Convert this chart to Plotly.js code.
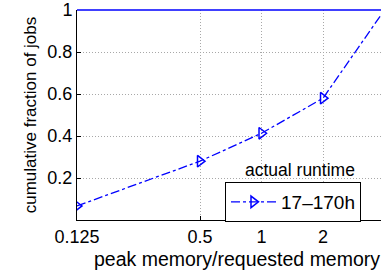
<!DOCTYPE html>
<html>
<head>
<meta charset="utf-8">
<script src="https://cdn.plot.ly/plotly-3.0.1.min.js"></script>
<style>
html,body{margin:0;padding:0;overflow:hidden;background:#fff;width:381px;height:274px;}
#chart{width:400px;height:274px;}
</style>
</head>
<body>
<div id="chart"></div>
<script>
// Data
const memRatio = [0.125, 0.5, 1, 2, 4];
const cumFraction = [0.067, 0.28, 0.413, 0.58, 1.0];
const seriesName = "17\u2013170h";
const legendTitle = "actual runtime";
const xTickVals = [0.125, 0.5, 1, 2];
const xTickText = ["0.125", "0.5", "1", "2"];
const yTickVals = [0.2, 0.4, 0.6, 0.8, 1];
const yTickText = ["0.2", "0.4", "0.6", "0.8", "1"];
const xTitle = "peak memory/requested memory";
const yTitle = "cumulative fraction of jobs";

const FONT = "Liberation Sans, Arial, Helvetica, sans-serif";

const trace = {
  x: memRatio,
  y: cumFraction,
  name: seriesName,
  type: "scatter",
  mode: "lines+markers",
  line: {color: "#0000ff", width: 1.3, dash: "dashdot"},
  marker: {symbol: "triangle-right-open", size: 10, color: "#0000ff", line: {width: 1.5, color: "#0000ff"}},
  cliponaxis: true
};

const layout = {
  width: 400,
  height: 274,
  margin: {l: 77, r: 3, t: 10, b: 54},
  paper_bgcolor: "#ffffff",
  plot_bgcolor: "#ffffff",
  font: {family: FONT, color: "#000", size: 17},
  showlegend: true,
  legend: {
    x: 0.4625, y: 0.181, xanchor: "left", yanchor: "top",
    bordercolor: "#000", borderwidth: 1, bgcolor: "#fff",
    font: {family: FONT, size: 19, color: "#000"},
    itemwidth: 45,
    tracegroupgap: 0
  },
  xaxis: {
    type: "log",
    range: [Math.log10(0.125), 0.6632],
    tickvals: xTickVals,
    ticktext: xTickText,
    ticks: "inside", ticklen: 4, tickcolor: "#000",
    showline: true, linecolor: "#000", linewidth: 1,
    showgrid: true, gridcolor: "#a8a8a8", griddash: "1px,2px", gridwidth: 1,
    zeroline: false,
    tickfont: {family: FONT, size: 18, color: "#000"},
    title: {text: xTitle, font: {family: FONT, size: 19.5, color: "#000"}, standoff: 6},
    automargin: false
  },
  yaxis: {
    range: [0, 1],
    tickvals: yTickVals,
    ticktext: yTickText,
    ticks: "inside", ticklen: 4, tickcolor: "#000",
    showline: true, linecolor: "#000", linewidth: 1,
    showgrid: true, gridcolor: "#a8a8a8", griddash: "1px,2px", gridwidth: 1,
    zeroline: false,
    tickfont: {family: FONT, size: 18, color: "#000"},
    title: {text: yTitle, font: {family: FONT, size: 17, color: "#000"}, standoff: 6},
    automargin: false
  },
  shapes: [{
    type: "line", xref: "paper", yref: "paper", x0: 0, x1: 1, y0: 1, y1: 1,
    line: {color: "#0000ff", width: 1.5}
  }],
  annotations: [{
    text: legendTitle, xref: "paper", yref: "paper", x: 0.697, y: 0.236,
    xanchor: "center", yanchor: "middle", showarrow: false,
    font: {family: FONT, size: 17.5, color: "#000"}
  }]
};

Plotly.newPlot("chart", [trace], layout, {staticPlot: true, displayModeBar: false});
</script>
</body>
</html>
